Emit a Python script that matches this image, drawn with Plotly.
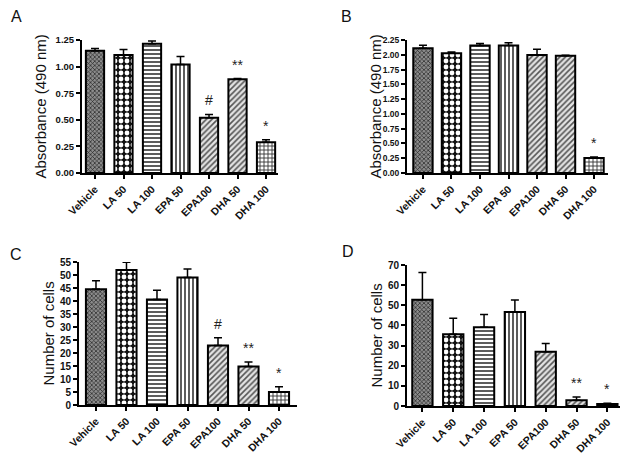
import plotly.graph_objects as go

categories = ["Vehicle", "LA 50", "LA 100", "EPA 50", "EPA100", "DHA 50", "DHA 100"]

a_values = [1.15, 1.11, 1.215, 1.02, 0.52, 0.88, 0.29]
a_errors = [0.02, 0.05, 0.025, 0.075, 0.03, 0.008, 0.022]
a_marks = ["", "", "", "", "#", "**", "*"]
a_ticks = [0, 0.25, 0.5, 0.75, 1.0, 1.25]

b_values = [2.11, 2.025, 2.155, 2.155, 1.997, 1.985, 0.254]
b_errors = [0.05, 0.022, 0.035, 0.05, 0.095, 0.006, 0.016]
b_marks = ["", "", "", "", "", "", "*"]
b_ticks = [0, 0.25, 0.5, 0.75, 1.0, 1.25, 1.5, 1.75, 2.0, 2.25]

c_values = [44.5, 51.9, 40.6, 49.0, 22.9, 14.8, 5.0]
c_errors = [3.3, 3.0, 3.5, 3.3, 3.0, 1.7, 2.0]
c_marks = ["", "", "", "", "#", "**", "*"]
c_ticks = list(range(0, 56, 5))

d_values = [52.8, 35.6, 39.1, 46.7, 26.9, 2.8, 1.0]
d_errors = [13.5, 8.0, 6.3, 5.9, 4.1, 1.7, 0.4]
d_marks = ["", "", "", "", "", "**", "*"]
d_ticks = list(range(0, 71, 10))

W, H = 629, 461
FONT = "Liberation Sans, Arial, sans-serif"

patterns = [
    dict(shape="x", fgcolor="#222222", bgcolor="#8c8c8c", size=3, solidity=0.4),
    dict(shape=".", fgcolor="#ffffff", bgcolor="#111111", size=6, solidity=0.5),
    dict(shape="-", fgcolor="#4a4a4a", bgcolor="#ffffff", size=4, solidity=0.45),
    dict(shape="|", fgcolor="#4a4a4a", bgcolor="#ffffff", size=4, solidity=0.45),
    dict(shape="/", fgcolor="#555555", bgcolor="#e4e4e4", size=4, solidity=0.4),
    dict(shape="/", fgcolor="#555555", bgcolor="#e4e4e4", size=4, solidity=0.4),
    dict(shape="+", fgcolor="#333333", bgcolor="#ffffff", size=4, solidity=0.4),
]

panels = [
    dict(name="A", vals=a_values, errs=a_errors, marks=a_marks, ticks=a_ticks, fmt=".2f",
         title="Absorbance (490 nm)", px=(82, 278), py=(40, 173), xr=(-0.456, 6.42), bw=0.64,
         letter=(16, 16), title_x=40, yfs=9.5),
    dict(name="B", vals=b_values, errs=b_errors, marks=b_marks, ticks=b_ticks, fmt=".2f",
         title="Absorbance (490 nm)", px=(407, 608), py=(40, 173), xr=(-0.56, 6.49), bw=0.68,
         letter=(346, 16), title_x=375, yfs=8.5),
    dict(name="C", vals=c_values, errs=c_errors, marks=c_marks, ticks=c_ticks, fmt="d",
         title="Number of cells", px=(79, 297), py=(262, 405), xr=(-0.557, 6.59), bw=0.66,
         letter=(16, 254), title_x=48, yfs=10),
    dict(name="D", vals=d_values, errs=d_errors, marks=d_marks, ticks=d_ticks, fmt="d",
         title="Number of cells", px=(407, 620), py=(265, 406), xr=(-0.50, 6.41), bw=0.66,
         letter=(348, 252), title_x=376, yfs=10),
]

fig = go.Figure()
annotations = []
for i, p in enumerate(panels):
    n = "" if i == 0 else str(i + 1)
    xa, ya = "x" + n, "y" + n
    for j, c in enumerate(categories):
        pt = patterns[j]
        fig.add_trace(go.Bar(
            x=[c], y=[p["vals"][j]], xaxis=xa, yaxis=ya, width=p["bw"],
            marker=dict(color=pt["bgcolor"], line=dict(color="black", width=2),
                        pattern=dict(shape=pt["shape"], fgcolor=pt["fgcolor"],
                                     bgcolor=pt["bgcolor"], size=pt["size"],
                                     solidity=pt["solidity"], fillmode="replace")),
            error_y=dict(type="data", symmetric=False, array=[p["errs"][j]],
                         arrayminus=[0], color="black", thickness=1.5, width=4),
            showlegend=False, hoverinfo="skip",
        ))
    top = p["ticks"][-1]
    fig.update_layout(**{
        "xaxis" + n: dict(domain=[p["px"][0] / W, p["px"][1] / W], anchor=ya,
                          type="category", categoryorder="array", categoryarray=categories,
                          range=list(p["xr"]), showline=True, linecolor="black", linewidth=2,
                          ticks="outside", ticklen=4, tickwidth=1.5, tickcolor="black",
                          tickangle=-45, showgrid=False, zeroline=False, automargin=False,
                          tickfont=dict(family=FONT, size=10.5, color="#111", weight="bold")),
        "yaxis" + n: dict(domain=[1 - p["py"][1] / H, 1 - p["py"][0] / H], anchor=xa,
                          range=[0, top], tickvals=p["ticks"], tickformat=p["fmt"],
                          showline=True, linecolor="black", linewidth=2,
                          ticks="outside", ticklen=4, tickwidth=1.5, tickcolor="black",
                          showgrid=False, zeroline=False, automargin=False,
                          tickfont=dict(family=FONT, size=p["yfs"], color="#111",
                                        weight="bold")),
    })
    for c, v, e, m in zip(categories, p["vals"], p["errs"], p["marks"]):
        if m:
            annotations.append(dict(x=c, y=v + e, xref=xa, yref=ya, text=m, showarrow=False,
                                    yanchor="bottom", yshift=4,
                                    font=dict(family=FONT, size=14, color="#222")))
    annotations.append(dict(x=p["title_x"] / W, y=1 - (p["py"][0] + p["py"][1]) / 2 / H,
                            xref="paper", yref="paper", text=p["title"], textangle=-90,
                            showarrow=False, xanchor="center", yanchor="middle",
                            font=dict(family=FONT, size=15, color="#111")))
    annotations.append(dict(x=p["letter"][0] / W, y=1 - p["letter"][1] / H, xref="paper",
                            yref="paper", text=p["name"], showarrow=False,
                            xanchor="center", yanchor="middle",
                            font=dict(family=FONT, size=16, color="#111")))

fig.update_layout(template="none", width=W, height=H, margin=dict(l=0, r=0, t=0, b=0),
                  paper_bgcolor="white", plot_bgcolor="white", annotations=annotations,
                  barmode="overlay", showlegend=False)
fig.write_html("out.html", config={"displayModeBar": False},
               post_script="document.body.style.margin='0';document.body.style.overflow='hidden';")
